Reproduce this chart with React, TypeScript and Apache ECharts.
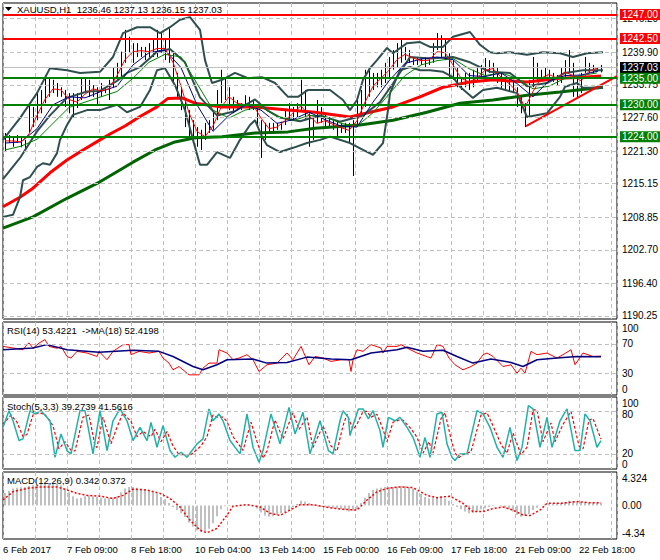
import React, { useEffect, useRef } from "react";
import * as echarts from "echarts";

const FONT = "'Liberation Sans', Arial, sans-serif";

// ---------- labels ----------
const headerText = "XAUUSD,H1  1236.46 1237.13 1236.15 1237.03";
const rsiTitle = "RSI(14) 53.4221  ->MA(18) 52.4198";
const stochTitle = "Stoch(5,3,3) 39.2739 41.5616";
const macdTitle = "MACD(12,26,9) 0.342 0.372";
const priceTicks = ["1190.25", "1196.40", "1202.70", "1208.85", "1215.15", "1221.30", "1227.60", "1233.75", "1239.90", "1246.20"];
const dateLabels = ["6 Feb 2017", "7 Feb 09:00", "8 Feb 18:00", "10 Feb 04:00", "13 Feb 14:00", "15 Feb 00:00", "16 Feb 09:00", "17 Feb 18:00", "21 Feb 09:00", "22 Feb 18:00"];
const redLevels = [1247.0, 1242.5];
const greenLevels = [1235.0, 1230.0, 1224.0];
const lastPrice = 1237.03;
const trendLine = [[261.5, 1226.0], [307, 1235.4]];

// ---------- price bars (every 2nd bar, index 1,3,5,...) ----------
const barHigh = [
  1224.7, 1224.3, 1224.0, 1224.3, 1223.9, 1223.4, 1230.3, 1229.6, 1232.2, 1232.8,
  1235.6, 1235.2, 1234.7, 1234.1, 1233.3, 1232.8, 1232.2, 1232.2, 1232.2, 1235.2,
  1235.2, 1234.7, 1233.7, 1233.3, 1234.1, 1233.3, 1234.7, 1237.1, 1237.9, 1240.0,
  1244.1, 1242.8, 1241.6, 1241.6, 1240.9, 1240.9, 1241.6, 1242.2, 1244.1, 1243.5,
  1242.2, 1244.4, 1239.7, 1236.0, 1233.3, 1230.9, 1229.0, 1227.1, 1225.8, 1225.3,
  1226.6, 1227.1, 1229.0, 1232.8, 1236.6, 1235.2, 1233.3, 1231.5, 1230.9, 1230.3,
  1231.8, 1231.5, 1230.9, 1229.6, 1227.1, 1226.6, 1226.6, 1226.6, 1226.6, 1226.8,
  1229.0, 1230.3, 1229.6, 1230.3, 1234.7, 1232.8, 1228.4, 1227.7, 1230.9, 1229.6,
  1228.4, 1227.7, 1227.1, 1227.1, 1226.6, 1226.6, 1226.6, 1227.1, 1231.5, 1232.8,
  1236.6, 1236.6, 1236.0, 1236.0, 1236.6, 1237.9, 1239.0, 1240.3, 1241.6, 1242.2,
  1240.9, 1240.3, 1239.0, 1239.0, 1239.0, 1239.0, 1238.8, 1241.6, 1243.5, 1243.1,
  1242.2, 1239.7, 1238.4, 1237.1, 1235.2, 1236.0, 1236.0, 1236.6, 1236.9, 1237.5,
  1238.8, 1238.4, 1237.9, 1237.1, 1236.0, 1235.2, 1235.2, 1234.7, 1233.3, 1231.5,
  1230.3, 1234.7, 1239.0, 1237.9, 1236.6, 1237.1, 1236.6, 1236.0, 1235.6, 1236.9,
  1238.4, 1240.3, 1237.9, 1235.2, 1236.0, 1239.0, 1237.9, 1237.5, 1237.1, 1237.5,
];
const barLow = [
  1221.2, 1222.8, 1222.1, 1222.8, 1222.0, 1221.5, 1224.7, 1225.8, 1227.1, 1228.4,
  1230.3, 1231.5, 1232.2, 1231.5, 1231.5, 1229.6, 1228.4, 1227.7, 1229.4, 1230.9,
  1232.2, 1231.5, 1231.5, 1230.0, 1231.5, 1232.2, 1230.9, 1233.3, 1234.7, 1235.2,
  1237.9, 1239.8, 1237.9, 1239.0, 1239.0, 1238.4, 1239.0, 1239.0, 1239.0, 1239.8,
  1238.4, 1237.9, 1234.1, 1231.5, 1229.0, 1225.8, 1223.4, 1222.8, 1222.1, 1221.5,
  1223.4, 1224.7, 1225.3, 1227.1, 1230.3, 1230.9, 1229.0, 1228.4, 1229.0, 1229.0,
  1229.6, 1229.0, 1229.0, 1225.8, 1220.0, 1223.4, 1224.7, 1224.9, 1225.3, 1225.3,
  1226.2, 1227.1, 1227.1, 1227.7, 1229.0, 1227.1, 1222.1, 1223.4, 1226.6, 1226.6,
  1225.8, 1225.8, 1225.3, 1224.0, 1224.7, 1224.7, 1222.8, 1216.6, 1225.8, 1228.4,
  1229.6, 1231.5, 1232.8, 1233.3, 1233.3, 1234.1, 1235.2, 1236.6, 1237.1, 1237.9,
  1238.4, 1237.9, 1237.5, 1237.5, 1237.5, 1237.1, 1237.5, 1237.9, 1240.3, 1239.0,
  1238.4, 1235.2, 1234.7, 1233.3, 1232.8, 1233.3, 1232.8, 1233.3, 1234.3, 1235.2,
  1235.6, 1236.0, 1235.2, 1234.1, 1232.8, 1232.8, 1232.4, 1232.2, 1229.6, 1228.4,
  1225.8, 1227.7, 1233.3, 1234.7, 1234.7, 1234.7, 1234.7, 1234.3, 1233.7, 1234.1,
  1235.2, 1236.0, 1231.5, 1231.3, 1232.2, 1236.0, 1236.0, 1236.0, 1236.2, 1236.1,
];

// ---------- moving averages / bands: [barIndex, value] ----------
const ma100 = [[0, 1210.8], [8.5, 1212.6], [15, 1214.3], [23.5, 1217.2], [32, 1219.6], [40, 1221.5], [48.5, 1223.4], [53.5, 1224.5], [61, 1226.0], [68.5, 1227.8], [77, 1229.6], [82.5, 1231.2], [89.5, 1231.3], [96, 1230.3], [109.5, 1229.6], [126, 1229.6], [142.5, 1229.0], [156, 1228.6], [173.5, 1227.7], [183.5, 1228.6], [195, 1229.6], [208.5, 1231.5], [220, 1233.3], [233.5, 1234.3], [245, 1234.7], [262, 1234.3], [278.5, 1235.0], [290, 1235.2], [299, 1235.4]];
const ma200 = [[0, 1206.8], [15, 1208.9], [32, 1212.4], [48.5, 1215.5], [65, 1219.2], [76, 1221.5], [86, 1223.0], [96, 1223.8], [109.5, 1224.0], [126, 1224.7], [142.5, 1224.9], [156, 1225.6], [178.5, 1226.2], [195, 1227.1], [212, 1228.6], [228.5, 1230.3], [245, 1230.9], [262, 1231.8], [278.5, 1232.4], [300, 1233.3]];
const bbUpper = [[0, 1223.4], [8.5, 1227.5], [17, 1232.2], [23.5, 1236.9], [32, 1236.5], [38.5, 1236.0], [48.5, 1236.2], [55, 1239.0], [60, 1243.5], [67, 1244.6], [73.5, 1244.6], [78.5, 1243.5], [83.5, 1244.6], [88.5, 1246.0], [93.5, 1246.5], [98.5, 1244.1], [101, 1238.4], [104.5, 1234.1], [109.5, 1234.7], [116, 1236.0], [122.5, 1235.0], [129.5, 1235.2], [136, 1234.1], [142.5, 1231.5], [147.5, 1231.5], [152.5, 1232.8], [163.5, 1232.8], [170, 1230.9], [173.5, 1229.0], [177, 1230.9], [180, 1234.7], [183.5, 1236.9], [187, 1238.4], [192, 1240.7], [195, 1239.7], [202, 1241.6], [208.5, 1241.8], [213.5, 1240.9], [220, 1240.9], [225, 1242.8], [233.5, 1243.7], [238.5, 1241.3], [243.5, 1239.9], [247, 1239.7], [253.5, 1239.9], [262, 1239.4], [270, 1239.9], [278.5, 1239.7], [285, 1239.0], [292, 1239.7], [300, 1239.9]];
const bbMiddle = [[0, 1216.0], [8.5, 1220.0], [17, 1225.0], [23.5, 1228.0], [32, 1231.3], [42, 1232.5], [48.5, 1232.6], [57, 1234.5], [62, 1236.0], [68.5, 1237.1], [77, 1240.0], [83.5, 1240.5], [91, 1238.0], [98.5, 1231.4], [107, 1228.0], [116, 1228.8], [126, 1231.0], [132, 1229.0], [138.5, 1227.6], [148.5, 1226.9], [158.5, 1228.0], [168.5, 1226.8], [180, 1228.0], [188.5, 1230.5], [195, 1234.0], [203.5, 1239.0], [213.5, 1238.7], [225, 1239.0], [233.5, 1238.0], [243.5, 1236.2], [253.5, 1236.0], [262, 1233.5], [272, 1234.1], [281, 1236.0], [290, 1236.5], [300, 1236.5]];
const bbLower = [[0, 1208.9], [5, 1209.3], [8.5, 1212.6], [10, 1215.8], [13.5, 1216.4], [17, 1218.3], [20, 1219.0], [23.5, 1218.7], [27, 1220.9], [28.5, 1223.4], [32, 1226.2], [35, 1228.1], [42, 1229.0], [48.5, 1229.0], [57, 1230.0], [62, 1228.6], [68.5, 1229.6], [73.5, 1232.8], [77, 1236.5], [81, 1236.9], [86, 1233.7], [91, 1229.0], [95, 1223.4], [98.5, 1218.7], [102, 1218.7], [107, 1221.1], [113.5, 1220.0], [118.5, 1223.4], [123.5, 1226.2], [126, 1227.1], [129.5, 1224.0], [132, 1222.4], [138.5, 1221.1], [145, 1221.9], [152, 1222.8], [158.5, 1223.4], [163.5, 1224.0], [173.5, 1222.8], [180, 1221.5], [185, 1220.6], [190, 1222.8], [192.5, 1229.0], [193.5, 1232.2], [198.5, 1236.5], [203.5, 1237.1], [208.5, 1236.5], [213.5, 1236.5], [220, 1236.2], [225, 1235.2], [228.5, 1233.4], [235, 1231.3], [240, 1232.8], [247, 1233.2], [257, 1232.2], [262, 1227.7], [272, 1228.4], [278.5, 1231.5], [281, 1233.4], [287, 1234.1], [290, 1233.2], [300, 1233.2]];
// fast averages, sampled every 4 bars (red) / 8 bars (blue, green) from bar 1
const fastRed = [1223.2, 1223.2, 1223.0, 1224.5, 1228.0, 1231.0, 1233.0, 1232.8, 1231.0, 1230.5, 1232.0, 1233.0, 1232.6, 1233.0, 1235.5, 1238.5, 1240.0, 1240.2, 1240.0, 1240.6, 1240.6, 1238.0, 1233.5, 1228.5, 1225.0, 1224.0, 1226.0, 1229.5, 1231.5, 1230.3, 1230.0, 1230.0, 1227.5, 1225.5, 1225.8, 1227.0, 1228.5, 1229.8, 1228.0, 1226.5, 1227.0, 1226.3, 1225.7, 1225.2, 1227.0, 1230.5, 1233.5, 1235.0, 1236.5, 1238.5, 1239.5, 1238.8, 1238.3, 1238.4, 1240.0, 1239.8, 1237.5, 1235.0, 1234.3, 1235.0, 1236.5, 1236.8, 1235.2, 1234.0, 1232.5, 1229.5, 1232.5, 1235.0, 1235.7, 1235.0, 1236.2, 1235.5, 1234.5, 1236.3, 1236.9];
const fastBlue = [1222.8, 1223.0, 1225.5, 1230.0, 1231.5, 1231.3, 1232.5, 1233.5, 1237.5, 1239.8, 1240.3, 1237.0, 1230.0, 1225.0, 1228.0, 1230.0, 1229.0, 1226.5, 1227.2, 1228.6, 1227.2, 1226.0, 1225.8, 1230.5, 1234.5, 1237.8, 1238.6, 1239.0, 1238.5, 1235.5, 1235.3, 1236.0, 1234.0, 1231.5, 1234.5, 1235.5, 1235.6, 1236.3];
const fastGreen = [1221.5, 1222.2, 1223.5, 1226.5, 1229.5, 1230.5, 1231.5, 1232.5, 1235.0, 1238.0, 1239.5, 1239.0, 1234.0, 1229.0, 1227.5, 1229.0, 1229.6, 1227.8, 1227.0, 1228.0, 1227.8, 1226.5, 1226.0, 1228.5, 1232.0, 1235.5, 1237.5, 1238.3, 1238.7, 1236.8, 1235.5, 1236.0, 1235.0, 1233.0, 1233.5, 1235.0, 1235.5, 1236.0];

// ---------- RSI ----------
const rsi = [[0, 66.6], [5, 64.4], [10, 62], [12, 69], [13, 71.3], [15, 64], [18, 71], [21, 75.9], [23, 66.6], [27, 64], [29, 66.6], [32, 52.8], [34, 50.6], [37, 59.8], [42, 57.5], [47, 52.8], [48, 59.8], [52, 48.3], [55, 59.8], [60, 69], [63, 69], [64, 55.2], [68, 59.8], [73, 57.5], [78, 59.8], [80, 50.6], [83, 43.7], [85, 34.5], [88, 39], [93, 27.6], [98, 27.6], [100, 36.8], [103, 43.7], [107, 43.7], [108, 62], [112, 57.5], [115, 48.3], [118, 50.6], [122, 55.2], [125, 48.3], [128, 32.2], [132, 41.4], [137, 43.7], [142, 57.5], [145, 48.3], [149, 66.6], [153, 41.4], [156, 52.8], [160, 50.6], [164, 46], [169, 48.3], [173, 48.3], [174, 32.2], [175, 48.3], [177, 62], [180, 59.8], [184, 69], [189, 64.4], [190, 57.5], [192, 66.6], [197, 66.6], [199, 69], [202, 64.4], [207, 57.5], [214, 50.6], [217, 69], [220, 66.6], [223, 50.6], [226, 41.4], [230, 34.5], [234, 39], [237, 43.7], [240, 55.2], [242, 57.5], [245, 52.8], [250, 39], [254, 41.4], [257, 29.9], [259, 36.8], [261, 29.9], [264, 59.8], [267, 55.2], [272, 57.5], [277, 50.6], [280, 55.2], [284, 62], [286, 41.4], [290, 57.5], [295, 52.8], [299, 53.4]];
const rsiMa = [[0, 62], [15, 64.4], [22, 69], [32, 62], [48, 58.6], [65, 61.3], [78, 59.8], [85, 52.8], [95, 39], [100, 34.5], [107, 41.4], [112, 48.3], [125, 49.2], [132, 43.7], [142, 44.6], [152, 51.9], [164, 49.2], [174, 48.3], [184, 57.5], [197, 62], [202, 65.3], [210, 59.8], [220, 61.3], [227, 52.8], [235, 43.7], [244, 49.2], [254, 44.6], [260, 39], [267, 48.3], [277, 50.6], [287, 52.8], [299, 52.4]];

// ---------- Stochastic ----------
const stochK = [[0, 57.9], [3, 81], [5, 67], [8, 39.5], [10, 41.8], [13.5, 81], [16, 76.5], [19, 81], [23.5, 67], [26, 16.3], [29, 48.7], [32, 25.6], [34, 21], [38.5, 81], [41, 81], [43.5, 44], [45, 21], [48.5, 81], [52, 25.6], [55, 67], [58.5, 83.4], [62, 67], [65, 39.5], [68.5, 57.9], [72, 39.5], [74, 64.8], [77, 30.2], [80, 60.3], [83.5, 25.6], [86, 16.3], [89, 23.3], [92, 16.3], [97, 34.9], [100, 41.8], [103, 83.4], [105, 67], [108, 76.5], [110, 67], [113.5, 39.5], [118.5, 21], [122, 76.5], [125, 30.2], [128, 9.4], [130, 25.6], [134, 76.5], [138.5, 34.9], [143, 85.6], [146, 48.7], [150, 78.7], [153.5, 21], [158.5, 67], [162.7, 25.6], [165, 21], [168.5, 67], [170, 81], [172.7, 71.7], [173.5, 46.4], [175, 60.3], [177.7, 83.4], [180, 83.4], [182.7, 69.5], [185, 81], [188.5, 53.3], [190, 30.2], [192.7, 71.7], [196, 67], [198.5, 71.7], [202, 57.9], [205, 44], [208.5, 16.3], [211, 44], [213.5, 16.3], [217, 76.5], [219.5, 78.7], [222, 34.9], [224.5, 16.3], [226, 11.8], [228.5, 21], [232, 21], [237, 81], [240, 76.5], [243.5, 57.9], [247, 30.2], [250, 16.3], [253.5, 57.9], [257, 11.8], [259.5, 30.2], [262.7, 88], [265, 83.4], [268.5, 30.2], [272, 71.7], [274.5, 30.2], [278.5, 67], [282, 83.4], [286, 25.6], [288.5, 25.6], [291, 76.5], [293.5, 67], [297, 30.2], [299, 39.3]];
const stochD = [[0, 62], [4, 75], [7, 65], [10, 45], [12, 48], [15, 75], [18, 78], [21, 76], [25, 60], [28, 28], [31, 38], [34, 26], [36, 25], [40, 72], [43, 75], [46, 32], [47, 30], [50, 72], [54, 35], [57, 58], [60, 78], [64, 66], [67, 45], [70, 52], [74, 45], [76, 55], [79, 38], [82, 52], [85, 32], [88, 20], [91, 20], [94, 20], [99, 32], [102, 45], [105, 75], [107, 72], [110, 72], [112, 66], [115, 45], [120, 26], [124, 65], [127, 38], [130, 15], [132, 25], [136, 68], [140, 42], [145, 78], [148, 55], [152, 72], [155, 30], [160, 60], [164, 32], [167, 25], [170, 60], [172, 76], [175, 55], [177, 62], [180, 80], [182, 80], [184, 72], [187, 76], [190, 55], [192, 38], [195, 65], [198, 68], [200, 68], [204, 56], [207, 44], [210, 22], [213, 38], [215, 22], [219, 70], [221, 78], [224, 42], [226, 22], [228, 16], [230, 20], [234, 24], [239, 75], [242, 78], [245, 60], [249, 34], [252, 22], [255, 50], [259, 20], [262, 30], [265, 82], [267, 82], [270, 38], [274, 64], [276, 38], [280, 62], [284, 80], [288, 32], [290, 28], [293, 68], [295, 70], [299, 41.6]];

// ---------- MACD (histogram every 2nd bar from bar 1) ----------
const macdHist = [
  1.6, 1.9, 2.2, 2.3, 2.35, 2.4, 2.5, 2.6, 2.7, 2.8,
  2.86, 2.9, 2.86, 2.8, 2.6, 2.2, 1.7, 1.2, 0.9, 1.0,
  1.2, 1.3, 1.2, 1.1, 1.0, 0.9, 0.95, 1.0, 1.2, 1.7,
  2.2, 2.4, 2.4, 2.3, 2.2, 2.1, 1.9, 1.7, 1.5, 1.1,
  0.8, 0.3, -0.2, -0.6, -1.0, -1.5, -2.2, -2.75, -3.2, -3.4,
  -3.3, -3.0, -2.3, -1.4, -0.5, -0.1, 0.05, 0.05, 0.05, 0.1,
  0.05, 0.05, 0.0, -0.4, -0.9, -1.3, -1.46, -1.4, -1.24, -1.0,
  -0.85, -0.6, -0.2, 0.2, 0.6, 0.5, 0.3, 0.1, -0.1, -0.2,
  -0.25, -0.3, -0.35, -0.4, -0.45, -0.6, -0.8, -0.7, -0.5, 0.3,
  1.0, 1.6, 2.0, 2.2, 2.3, 2.4, 2.4, 2.4, 2.45, 2.5,
  2.5, 2.4, 2.2, 1.8, 1.5, 1.1, 0.9, 1.0, 1.1, 1.1,
  0.9, 0.6, 0.2, -0.2, -0.5, -0.8, -1.0, -0.95, -0.8, -0.5,
  -0.35, -0.2, -0.1, 0.0, -0.1, -0.3, -0.5, -0.8, -1.2, -1.46,
  -1.35, -1.1, -0.6, -0.3, 0.0, 0.15, 0.25, 0.27, 0.3, 0.35,
  0.45, 0.6, 0.55, 0.5, 0.45, 0.4, 0.35, 0.35, 0.34, 0.34,
];
const macdSignal = [[0, 0.7], [5, 1.77], [12, 2.2], [18.5, 2.4], [27, 2.4], [32, 2.0], [37, 1.56], [42, 1.3], [48.5, 1.2], [55, 0.9], [60, 1.3], [65, 2.1], [72, 2.0], [78.5, 1.56], [83.5, 0.9], [88.5, -0.2], [93.5, -1.9], [98.5, -3.2], [102, -3.53], [107, -2.97], [112, -1.24], [115, -0.1], [122, 0.1], [128.5, -0.2], [133.5, -1.0], [138.5, -1.3], [143.5, -0.6], [148.5, 0.1], [155, 0.1], [163.5, -0.3], [170, -0.5], [177, -0.6], [182, 0.7], [187, 1.77], [192, 2.2], [198.5, 2.4], [205, 2.3], [212, 1.3], [217, 1.0], [223.5, 1.2], [230, 0.27], [235, -0.8], [240, -0.8], [245, -0.4], [250, -0.2], [255, -0.6], [260, -1.24], [263.5, -1.3], [268.5, -0.6], [272, 0.27], [280, 0.27], [287, 0.5], [293.5, 0.34], [299, 0.37]];

const X_MAX = 307;
const GRID_LINE = { color: "#c0c0c0", type: [4, 3] as number[], width: 1 };
const NO_LINE = { color: "rgba(255,255,255,0)", width: 1, type: "solid" };

function axisLabel(text: string, dy = 0, extra: any = {}) {
  return {
    show: true,
    position: "end",
    formatter: text,
    color: "#000",
    fontSize: 10,
    fontFamily: FONT,
    distance: 5,
    offset: [0, dy],
    ...extra,
  };
}

function buildOption() {
  const grids = [
    { left: 3, top: 3, width: 614, height: 316 },
    { left: 3, top: 322, width: 614, height: 73 },
    { left: 3, top: 397, width: 614, height: 72 },
    { left: 3, top: 472, width: 614, height: 67 },
  ].map((g) => ({ ...g, show: true, borderColor: "#000", borderWidth: 1, backgroundColor: "transparent" }));

  const xAxis = grids.map((_, n) => ({
    type: "value",
    gridIndex: n,
    min: 0,
    max: X_MAX,
    interval: 16,
    splitLine: { show: true, lineStyle: GRID_LINE },
    axisLine: { show: false },
    axisTick: { show: false },
    axisLabel:
      n === 3
        ? {
            show: true,
            align: "left",
            margin: 5,
            color: "#000",
            fontSize: 9.5,
            fontFamily: FONT,
            showMaxLabel: false,
            formatter: (v: number) => (v % 32 === 0 && dateLabels[v / 32] ? dateLabels[v / 32] : ""),
          }
        : { show: false },
  }));

  const yRanges = [
    [1189.68, 1249.16],
    [0, 100],
    [0, 100],
    [-4.34, 4.324],
  ];
  const yAxis = yRanges.map(([mn, mx], n) => ({
    type: "value",
    gridIndex: n,
    min: mn,
    max: mx,
    show: false,
    splitLine: { show: false },
  }));

  const line = (name: string, data: number[][], color: string, width: number, idx = 0, extra: any = {}) => ({
    name,
    type: "line",
    xAxisIndex: idx,
    yAxisIndex: idx,
    data,
    showSymbol: false,
    symbol: "none",
    silent: true,
    lineStyle: { color, width },
    ...extra,
  });

  const tickMarkLine = {
    silent: true,
    symbol: ["none", "none"],
    data: priceTicks.map((t) => ({ yAxis: parseFloat(t), lineStyle: GRID_LINE, label: axisLabel(t) })),
  };

  const levelItem = (v: number, color: string, lineColor: string, width: number, textColor = "#fff") => ({
    yAxis: v,
    lineStyle: { color: lineColor, width, type: "solid" },
    label: axisLabel(v.toFixed(2), 0, {
      color: textColor,
      backgroundColor: color,
      padding: [1, 3, 0, 2],
      distance: 3,
    }),
  });

  const levelMarkLine = {
    silent: true,
    symbol: ["none", "none"],
    data: [
      levelItem(lastPrice, "#000", "#c0c0c0", 1),
      ...redLevels.map((v) => levelItem(v, "#ff0000", "#ff0000", 2)),
      ...greenLevels.map((v) => levelItem(v, "#008000", "#008000", 2)),
    ],
  };

  const scaleLabels = (items: [number, string, number, boolean][]) => ({
    silent: true,
    symbol: ["none", "none"],
    data: items.map(([v, t, dy, visible]) => ({
      yAxis: v,
      lineStyle: visible ? GRID_LINE : NO_LINE,
      label: axisLabel(t, dy),
    })),
  });

  const pairsFrom = (vals: number[], start: number, step: number) => vals.map((v, j) => [start + step * j, v]);
  const bars = barHigh.map((h, k) => [1 + 2 * k, barLow[k], h]);
  const hist = macdHist.map((v, k) => [1 + 2 * k, v]);

  const series: any[] = [
    line("MA200", ma200, "#006400", 3, 0, { markLine: tickMarkLine }),
    line("MA100", ma100, "#ff0000", 3),
    line("BB upper", bbUpper, "#2f4f4f", 2),
    line("BB middle", bbMiddle, "#2f4f4f", 2),
    line("BB lower", bbLower, "#2f4f4f", 2),
    line("MA green", pairsFrom(fastGreen, 1, 8), "#008000", 1),
    line("MA blue", pairsFrom(fastBlue, 1, 8), "#00008b", 1),
    line("MA red", pairsFrom(fastRed, 1, 4), "#ff0000", 1),
    {
      name: "XAUUSD",
      type: "custom",
      xAxisIndex: 0,
      yAxisIndex: 0,
      silent: true,
      encode: { x: 0, y: [1, 2] },
      data: bars,
      renderItem: (_p: any, api: any) => {
        const i = api.value(0);
        const lo = api.coord([i, api.value(1)]);
        const hi = api.coord([i, api.value(2)]);
        const x = Math.round(lo[0]) + 0.5;
        return {
          type: "line",
          shape: { x1: x, y1: lo[1], x2: x, y2: hi[1] },
          style: { stroke: "#000", lineWidth: 1 },
        };
      },
    },
    line("Trend", trendLine, "#ff0000", 2, 0, { markLine: levelMarkLine }),
    // RSI
    line("RSI", rsi, "#ff0000", 1, 1, {
      markLine: scaleLabels([
        [100, "100", 6, false],
        [70, "70", 0, true],
        [30, "30", 0, true],
        [0, "0", -6, false],
      ]),
    }),
    line("RSI MA", rsiMa, "#000080", 1.5, 1),
    // Stoch
    line("Stoch D", stochD, "#ff0000", 1.2, 2, {
      lineStyle: { color: "#ff0000", width: 1.2, type: [3, 2] },
      markLine: scaleLabels([
        [100, "100", 6, false],
        [80, "80", 3, true],
        [20, "20", -1, true],
        [0, "0", -5, false],
      ]),
    }),
    line("Stoch K", stochK, "#20b2aa", 1.5, 2),
    // MACD
    {
      name: "MACD",
      type: "custom",
      xAxisIndex: 3,
      yAxisIndex: 3,
      silent: true,
      encode: { x: 0, y: 1 },
      data: hist,
      renderItem: (_p: any, api: any) => {
        const i = api.value(0);
        const top = api.coord([i, api.value(1)]);
        const base = api.coord([i, 0]);
        const x = Math.round(top[0]) - 1;
        return {
          type: "rect",
          shape: { x, y: Math.min(top[1], base[1]), width: 2, height: Math.abs(top[1] - base[1]) },
          style: { fill: "#c0c0c0" },
        };
      },
    },
    line("Signal", macdSignal, "#ff0000", 1.5, 3, {
      lineStyle: { color: "#ff0000", width: 1.5, type: [2, 2] },
      markLine: scaleLabels([
        [4.324, "4.324", 6, false],
        [0, "0.00", 0, false],
        [-4.34, "-4.34", -6, false],
      ]),
    }),
  ];

  const txt = (text: string, left: number, top: number) => ({
    type: "text",
    left,
    top,
    silent: true,
    z: 100,
    style: { text, fill: "#000", font: `9.5px ${FONT}` },
  });

  return {
    animation: false,
    backgroundColor: "#fff",
    grid: grids,
    xAxis,
    yAxis,
    series,
    graphic: [
      { type: "polygon", silent: true, z: 100, shape: { points: [[5, 7], [12, 7], [8.5, 11]] }, style: { fill: "#000" } },
      txt(headerText, 17, 4),
      txt(rsiTitle, 7, 325),
      txt(stochTitle, 7, 401),
      txt(macdTitle, 7, 475),
    ],
  };
}

export default function App() {
  const ref = useRef<HTMLDivElement>(null);
  useEffect(() => {
    if (!ref.current) return;
    const chart = echarts.init(ref.current, null, { renderer: "svg" });
    chart.setOption(buildOption() as any);
    return () => chart.dispose();
  }, []);
  return (
    <div
      ref={ref}
      style={{ position: "absolute", left: 0, top: 0, width: 660, height: 560, background: "#fff" }}
    />
  );
}
